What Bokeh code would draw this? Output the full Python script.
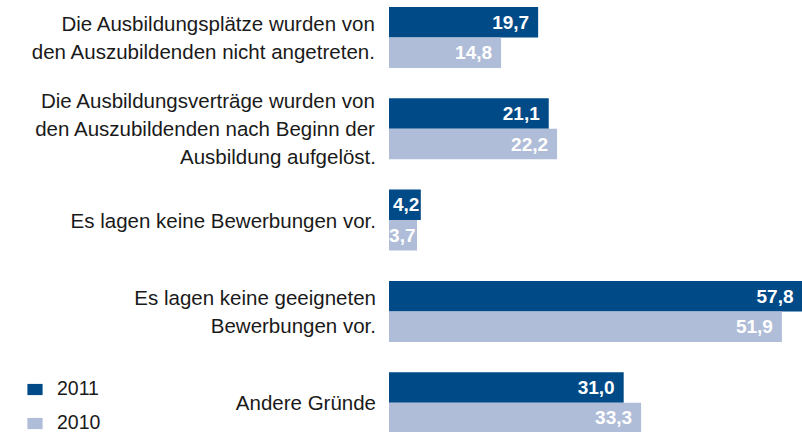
from bokeh.plotting import figure
from bokeh.models import ColumnDataSource, Legend, LegendItem
from bokeh.core.properties import value
from bokeh.embed import file_html
from bokeh.resources import INLINE
import numpy as np

categories = [
    "Die Ausbildungsplätze wurden von\nden Auszubildenden nicht angetreten.",
    "Die Ausbildungsverträge wurden von\nden Auszubildenden nach Beginn der\nAusbildung aufgelöst.",
    "Es lagen keine Bewerbungen vor.",
    "Es lagen keine geeigneten\nBewerbungen vor.",
    "Andere Gründe",
]
values_2011 = [19.7, 21.1, 4.2, 57.8, 31.0]
values_2010 = [14.8, 22.2, 3.7, 51.9, 33.3]
series_names = ["2011", "2010"]

C2011 = "#004A87"
C2010 = "#B0BDD8"
FONT = "Liberation Sans"

XMIN, XMAX = -51.32, 54.62
n = len(categories)
ypos = [-i for i in range(n)]
bh = 0.334

def fmt(v):
    return f"{v:.1f}".replace(".", ",")

def src_for(vals, shift):
    v = np.array(vals)
    return ColumnDataSource(dict(
        y=[y + shift for y in ypos], v=vals,
        lx=list(np.minimum(v, XMAX)),
        off=list(np.where(v < 8, -1.5, -9.0)),
        lab=[fmt(x) for x in vals]))

src11 = src_for(values_2011, bh / 2)
src10 = src_for(values_2010, -bh / 2)
srccat = ColumnDataSource(dict(y=ypos, x=[0] * n, t=categories))

p = figure(width=802, height=432, output_backend="svg", toolbar_location=None,
           x_range=(XMIN, XMAX), y_range=(-4.326, 0.405),
           x_axis_location=None, y_axis_location=None, min_border=0)
p.grid.visible = False
p.outline_line_color = None
p.background_fill_color = "white"

r11 = p.hbar(y="y", left=0, right="v", height=bh, source=src11, fill_color=C2011, line_color=None)
r10 = p.hbar(y="y", left=0, right="v", height=bh, source=src10, fill_color=C2010, line_color=None)

for s in (src11, src10):
    p.text(x="lx", y="y", text="lab", source=s, text_align="right", text_baseline="middle",
           x_offset="off", text_color="white", text_font=value(FONT), text_font_style="bold",
           text_font_size="19px")

p.text(x="x", y="y", text="t", source=srccat, text_align="right", text_baseline="middle",
       x_offset=-13, text_color="#1a1a1a", text_font=value(FONT), text_font_size="20.5px",
       text_line_height=1.22)

legend = Legend(items=[LegendItem(label=series_names[0], renderers=[r11]),
                       LegendItem(label=series_names[1], renderers=[r10])],
                location=(25, -2), orientation="vertical", padding=0, margin=0,
                border_line_color=None, background_fill_alpha=0,
                glyph_width=19, glyph_height=14, label_height=20, spacing=11,
                label_standoff=13, label_text_font=FONT, label_text_font_size="19.5px",
                label_text_color="#1a1a1a")
p.add_layout(legend)

open("out.html", "w").write(file_html(p, INLINE))
